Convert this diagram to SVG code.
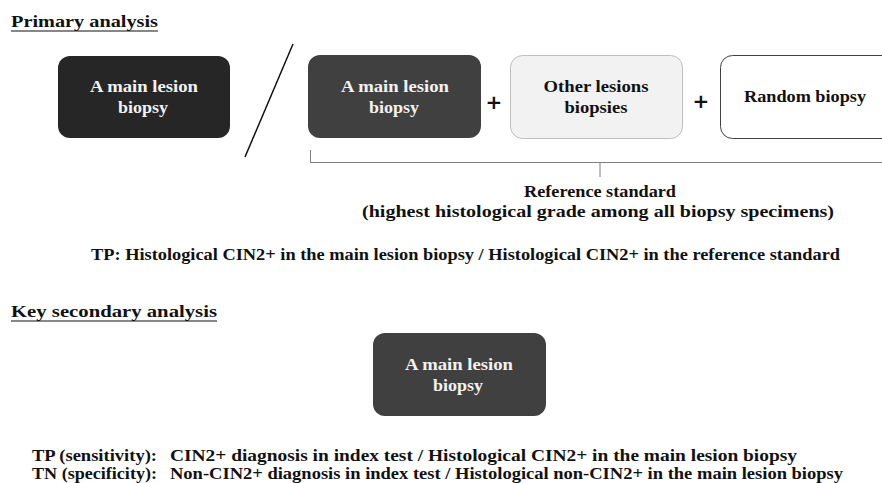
<svg xmlns="http://www.w3.org/2000/svg" width="882" height="483" viewBox="0 0 882 483" font-family="'Liberation Serif', 'DejaVu Serif', serif" font-weight="bold">
<style>
text{fill:#111}
.w{fill:#f2f2f2}
.c{text-anchor:middle}
.h{font-size:17.5px}
.n{font-size:16.5px}
.p{font-size:20px;font-family:"DejaVu Sans",sans-serif;font-weight:bold}
.t{font-size:16px}
</style>
<rect width="882" height="483" fill="#fff"/>
<text class="h" x="11" y="27" textLength="147" lengthAdjust="spacingAndGlyphs">Primary analysis</text>
<line x1="11" y1="31" x2="158" y2="31" stroke="#111" stroke-width="1.2"/>
<g id="box1">
<rect x="58" y="56" width="172" height="82" rx="12" fill="#262626"/>
<text class="n c w" x="144" y="92" textLength="108" lengthAdjust="spacingAndGlyphs">A main lesion</text>
<text class="n c w" x="143" y="113" textLength="50" lengthAdjust="spacingAndGlyphs">biopsy</text>
</g>
<g id="connectors">
<line x1="293" y1="44" x2="245" y2="157" stroke="#111" stroke-width="1.5"/>
<path d="M310.5 150 V162.5 H882 M600 162.5 V177" fill="none" stroke="#7f7f7f" stroke-width="1"/>
</g>
<g id="box2">
<rect x="308" y="55" width="173" height="83" rx="12" fill="#404040"/>
<text class="n c w" x="395" y="92" textLength="108" lengthAdjust="spacingAndGlyphs">A main lesion</text>
<text class="n c w" x="394" y="113" textLength="50" lengthAdjust="spacingAndGlyphs">biopsy</text>
</g>
<text class="p c" x="494" y="109">+</text>
<g id="box3">
<rect x="510.5" y="55.5" width="172" height="83" rx="12" fill="#f2f2f2" stroke="#bfbfbf"/>
<text class="n c" x="596" y="92" textLength="105" lengthAdjust="spacingAndGlyphs">Other lesions</text>
<text class="n c" x="596" y="113" textLength="63" lengthAdjust="spacingAndGlyphs">biopsies</text>
</g>
<text class="p c" x="701" y="108">+</text>
<g id="box4">
<rect x="720.5" y="55.5" width="175" height="83" rx="12" fill="#fff" stroke="#404040"/>
<text class="n c" x="805" y="102" textLength="122" lengthAdjust="spacingAndGlyphs">Random biopsy</text>
</g>
<text class="n c" x="600" y="197" textLength="152" lengthAdjust="spacingAndGlyphs">Reference standard</text>
<text class="n c" x="598" y="217" textLength="472" lengthAdjust="spacingAndGlyphs">(highest histological grade among all biopsy specimens)</text>
<text class="t" x="91" y="260" textLength="749" lengthAdjust="spacingAndGlyphs">TP: Histological  CIN2+ in the main lesion biopsy / Histological  CIN2+ in the reference standard</text>
<text class="h" x="11" y="317" textLength="206" lengthAdjust="spacingAndGlyphs">Key secondary analysis</text>
<line x1="11" y1="321" x2="217" y2="321" stroke="#111" stroke-width="1.2"/>
<g id="box5">
<rect x="373" y="333" width="173" height="83" rx="12" fill="#404040"/>
<text class="n c w" x="459" y="370" textLength="108" lengthAdjust="spacingAndGlyphs">A main lesion</text>
<text class="n c w" x="458" y="391" textLength="50" lengthAdjust="spacingAndGlyphs">biopsy</text>
</g>
<text class="t" x="32" y="461" textLength="125" lengthAdjust="spacingAndGlyphs">TP (sensitivity):</text>
<text class="t" x="170" y="461" textLength="627" lengthAdjust="spacingAndGlyphs">CIN2+ diagnosis in index test / Histological  CIN2+ in the main lesion biopsy</text>
<text class="t" x="32" y="479" textLength="125" lengthAdjust="spacingAndGlyphs">TN (specificity):</text>
<text class="t" x="170" y="479" textLength="673" lengthAdjust="spacingAndGlyphs">Non-CIN2+ diagnosis in index test / Histological  non-CIN2+ in the main lesion biopsy</text>
</svg>
